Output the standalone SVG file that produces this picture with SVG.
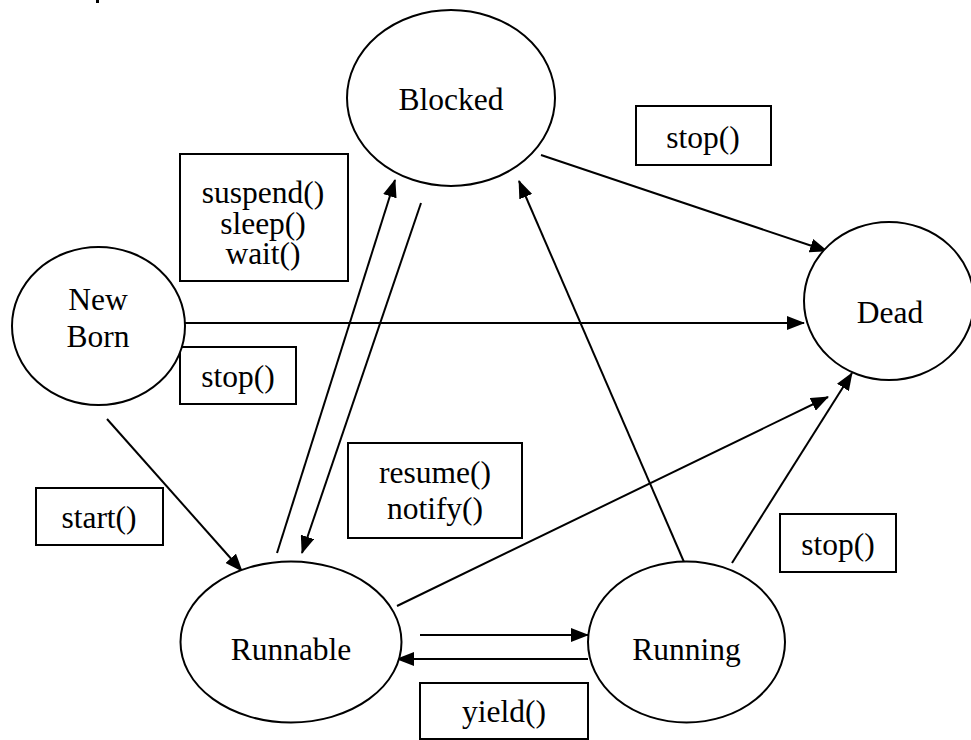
<svg xmlns="http://www.w3.org/2000/svg" width="971" height="740" viewBox="0 0 971 740">
  <style>
    .state { fill: #ffffff; stroke: #000000; stroke-width: 2; }
    .box { fill: #ffffff; stroke: #000000; stroke-width: 2; }
    .lbl { font-family: "Liberation Serif", "Times New Roman", serif; font-size: 31.5px; fill: #000000; text-anchor: middle; }
    .edge { fill: none; stroke: #000000; stroke-width: 2; }
    .arrow { marker-end: url(#head); }
  </style>
  <defs>
    <marker id="head" viewBox="0 0 18 14" refX="17" refY="7" markerWidth="18" markerHeight="14" markerUnits="userSpaceOnUse" orient="auto">
      <path d="M0,0 L18,7 L0,14 Z" fill="#000000"/>
    </marker>
  </defs>
  <rect width="971" height="740" fill="#ffffff"/>

  <!-- clipped fragment at the top edge -->
  <rect x="96" y="0" width="3" height="3" fill="#000000"/>

  <!-- transitions -->
  <g id="connectors">
    <line class="edge arrow" x1="180" y1="323" x2="804" y2="323"/>
    <line class="edge arrow" x1="541" y1="155" x2="827" y2="251"/>
    <line class="edge arrow" x1="107" y1="419" x2="242" y2="571"/>
    <line class="edge arrow" x1="277" y1="553" x2="395" y2="180"/>
    <line class="edge arrow" x1="421" y1="203" x2="302" y2="553"/>
    <line class="edge arrow" x1="397" y1="606" x2="828" y2="397"/>
    <line class="edge arrow" x1="684" y1="562" x2="519" y2="181"/>
    <line class="edge arrow" x1="732" y1="563" x2="852" y2="373"/>
    <line class="edge arrow" x1="420" y1="635" x2="588" y2="635"/>
    <line class="edge arrow" x1="588" y1="659" x2="397" y2="659"/>
  </g>

  <!-- transition labels -->
  <g id="label-suspend">
    <rect class="box" x="180" y="154" width="168" height="127"/>
    <text class="lbl" x="263" y="203">suspend()</text>
    <text class="lbl" x="263" y="234">sleep()</text>
    <text class="lbl" x="263" y="264">wait()</text>
  </g>
  <g id="label-stop-top">
    <rect class="box" x="636" y="106" width="135" height="59"/>
    <text class="lbl" x="703" y="148">stop()</text>
  </g>
  <g id="label-stop-newborn">
    <rect class="box" x="180" y="347" width="116" height="57"/>
    <text class="lbl" x="238" y="387">stop()</text>
  </g>
  <g id="label-start">
    <rect class="box" x="36" y="488" width="127" height="57"/>
    <text class="lbl" x="99" y="528">start()</text>
  </g>
  <g id="label-resume">
    <rect class="box" x="348" y="443" width="174" height="95"/>
    <text class="lbl" x="435" y="483">resume()</text>
    <text class="lbl" x="435" y="519">notify()</text>
  </g>
  <g id="label-stop-running">
    <rect class="box" x="780" y="514" width="116" height="58"/>
    <text class="lbl" x="838" y="555">stop()</text>
  </g>
  <g id="label-yield">
    <rect class="box" x="420" y="683" width="168" height="56"/>
    <text class="lbl" x="504" y="722">yield()</text>
  </g>

  <!-- states -->
  <g id="state-blocked">
    <ellipse class="state" cx="451" cy="98" rx="104" ry="88"/>
    <text class="lbl" x="451" y="110">Blocked</text>
  </g>
  <g id="state-newborn">
    <ellipse class="state" cx="98.5" cy="326" rx="86.5" ry="79"/>
    <text class="lbl" x="98" y="310">New</text>
    <text class="lbl" x="98" y="347">Born</text>
  </g>
  <g id="state-dead">
    <ellipse class="state" cx="889" cy="301" rx="85" ry="79"/>
    <text class="lbl" x="890" y="323">Dead</text>
  </g>
  <g id="state-runnable">
    <ellipse class="state" cx="291" cy="642" rx="110.5" ry="80.5"/>
    <text class="lbl" x="291" y="660">Runnable</text>
  </g>
  <g id="state-running">
    <ellipse class="state" cx="686.5" cy="642" rx="98.5" ry="80.5"/>
    <text class="lbl" x="686.5" y="660">Running</text>
  </g>
</svg>
